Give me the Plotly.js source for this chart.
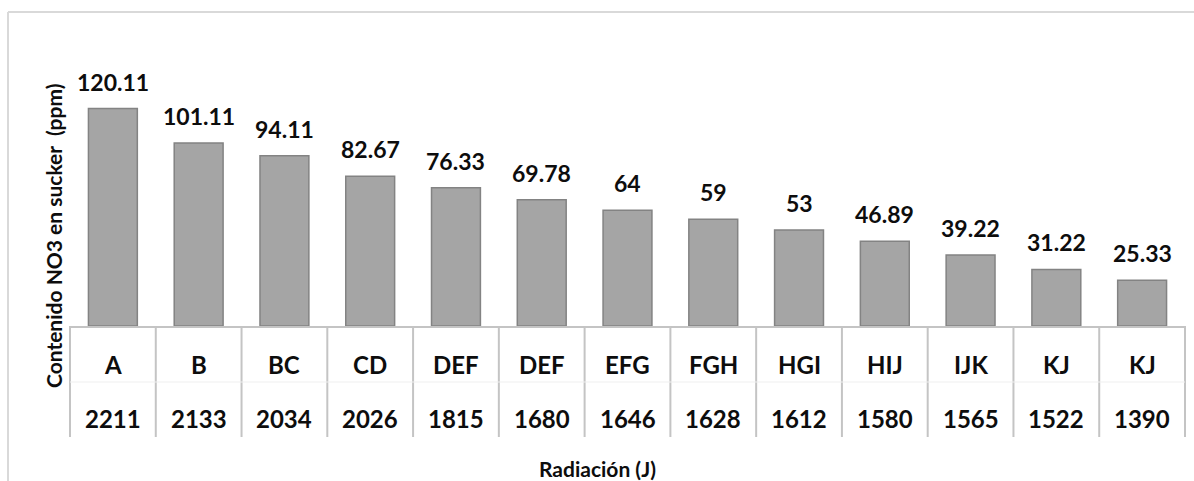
<!DOCTYPE html>
<html>
<head>
<meta charset="utf-8">
<script src="https://cdn.plot.ly/plotly-3.0.1.min.js"></script>
<style>
  html, body { margin: 0; padding: 0; background: #ffffff; }
  #chart { width: 1194px; height: 481px; }
</style>
</head>
<body>
<div id="chart"></div>
<script>
// Significance groups (letters) shown above each radiation value
const letters = ['A', 'B', 'BC', 'CD', 'DEF', 'DEF', 'EFG', 'FGH', 'HGI', 'HIJ', 'IJK', 'KJ', 'KJ'];
// Radiation (J) categories
const radiacion = ['2211', '2133', '2034', '2026', '1815', '1680', '1646', '1628', '1612', '1580', '1565', '1522', '1390'];
// NO3 content in sucker (ppm)
const no3 = [120.11, 101.11, 94.11, 82.67, 76.33, 69.78, 64, 59, 53, 46.89, 39.22, 31.22, 25.33];

const W = 1194, H = 481;
const M = { l: 70, r: 9, t: 30, b: 155 };
const plotW = W - M.l - M.r;
const plotH = H - M.t - M.b;
// convert page pixels to paper coordinates
const px = x => (x - M.l) / plotW;
const py = y => (H - M.b - y) / plotH;

const FONT = 'Lato, "Open Sans", sans-serif';
const TXT = '#0d0d0d';
const GRIDC = '#c4c4c4';
const N = radiacion.length;

const trace = {
  type: 'bar',
  x: radiacion,
  y: no3,
  marker: { color: '#a5a5a5', line: { color: '#838383', width: 1.5 } },
  hoverinfo: 'x+y'
};

const annotations = [];
// value labels above bars (x given as the category's serial number)
for (let i = 0; i < N; i++) {
  annotations.push({
    xref: 'x', yref: 'y', x: i, y: no3[i],
    text: String(no3[i]), showarrow: false,
    xanchor: 'center', yanchor: 'bottom', yshift: 11,
    font: { family: FONT, size: 23, color: TXT, weight: 'bold' }
  });
}
// two-row category table: letters, then radiation values
for (let i = 0; i < N; i++) {
  annotations.push({
    xref: 'x', yref: 'paper', x: i, y: 0,
    text: letters[i], showarrow: false,
    xanchor: 'center', yanchor: 'middle', yshift: -38,
    font: { family: FONT, size: 24, color: TXT, weight: 'bold' }
  });
  annotations.push({
    xref: 'x', yref: 'paper', x: i, y: 0,
    text: radiacion[i], showarrow: false,
    xanchor: 'center', yanchor: 'middle', yshift: -92,
    font: { family: FONT, size: 24, color: TXT, weight: 'bold' }
  });
}
// axis titles
annotations.push({
  xref: 'paper', yref: 'paper', x: px(53), y: py(236),
  text: 'Contenido NO3 en sucker  (ppm)', showarrow: false, textangle: -90,
  xanchor: 'center', yanchor: 'middle',
  font: { family: FONT, size: 21, color: TXT, weight: 'bold' }
});
annotations.push({
  xref: 'paper', yref: 'paper', x: px(597), y: py(468),
  text: 'Radiación (J)', showarrow: false,
  xanchor: 'center', yanchor: 'middle',
  font: { family: FONT, size: 21, color: TXT, weight: 'bold' }
});

const shapes = [];
// vertical dividers of the category table
for (let i = 0; i <= N; i++) {
  shapes.push({
    type: 'line', xref: 'paper', yref: 'paper',
    x0: i / N, x1: i / N, y0: 0, y1: py(437),
    line: { color: GRIDC, width: 2 }
  });
}
// faint rule between the two label rows
shapes.push({
  type: 'line', xref: 'paper', yref: 'paper',
  x0: 0, x1: 1, y0: py(382), y1: py(382),
  line: { color: '#efefef', width: 1 }
});
// chart-area frame (top and left edges)
shapes.push({
  type: 'line', xref: 'paper', yref: 'paper',
  x0: px(8), x1: px(W + 2), y0: py(12), y1: py(12),
  line: { color: '#d9d9d9', width: 2 }
});
shapes.push({
  type: 'line', xref: 'paper', yref: 'paper',
  x0: px(8), x1: px(8), y0: py(12), y1: py(H + 2),
  line: { color: '#d9d9d9', width: 2 }
});

const layout = {
  width: W, height: H,
  margin: M,
  paper_bgcolor: '#ffffff', plot_bgcolor: '#ffffff',
  showlegend: false,
  bargap: 0.43,
  xaxis: {
    type: 'category', range: [-0.5, N - 0.5],
    showline: true, linecolor: GRIDC, linewidth: 2,
    showticklabels: false, ticks: '', showgrid: false, zeroline: false,
    fixedrange: true
  },
  yaxis: {
    range: [0, plotH / 1.81],
    showline: false, showticklabels: false, ticks: '', showgrid: false, zeroline: false,
    fixedrange: true
  },
  annotations: annotations,
  shapes: shapes
};

Plotly.newPlot('chart', [trace], layout, { displayModeBar: false, staticPlot: true });
</script>
</body>
</html>
